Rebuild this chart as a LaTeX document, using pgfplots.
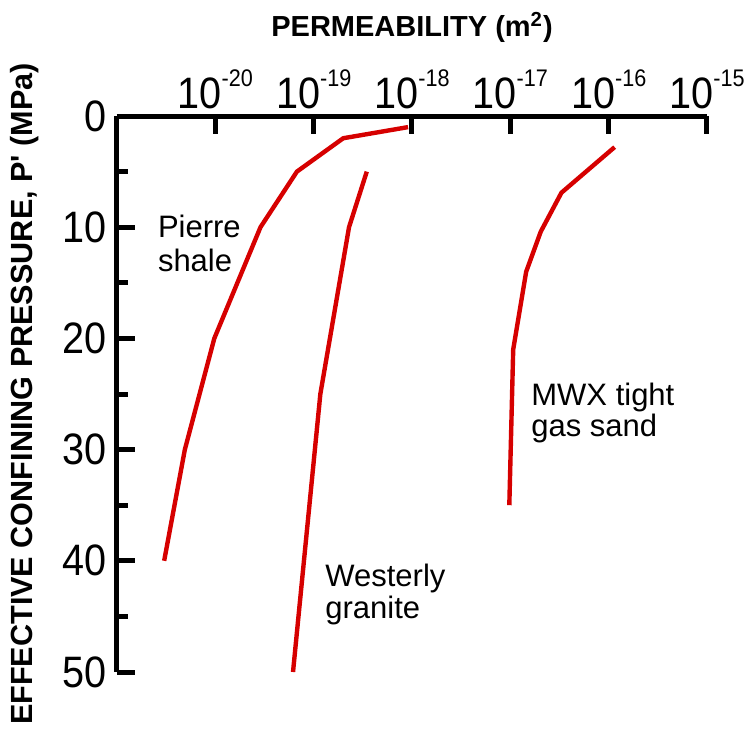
\documentclass[border=0pt]{standalone}
\usepackage{pgfplots}
\pgfplotsset{compat=1.18}
\usepackage{fontspec}
\setmainfont{Liberation Sans}
\newfontfamily\tickfont[FakeStretch=0.9]{Liberation Sans}
\definecolor{curvered}{RGB}{214,0,0}
% power-of-ten tick label with a raised exponent
\newcommand\tl[1]{10\raisebox{10.5pt}{\fontsize{12}{12}\selectfont #1}}

\begin{document}
\begin{tikzpicture}
\begin{axis}[
  at={(0pt,0pt)}, anchor=south west,
  scale only axis, width=295pt, height=278pt,
  xmode=log, xmin=1e-21, xmax=1e-15,
  ymin=0, ymax=50, y dir=reverse,
  axis x line*=top, axis y line*=left,
  axis line style={line width=2.5pt, -},
  xtick={1e-20,1e-19,1e-18,1e-17,1e-16,1e-15},
  xticklabels={\tl{-20},\tl{-19},\tl{-18},\tl{-17},\tl{-16},\tl{-15}},
  xminorticks=false,
  ytick={0,10,20,30,40,50},
  yticklabels={0,10,20,30,40,50},
  minor ytick={5,15,25,35,45},
  tick align=inside,
  major tick length=9pt, minor tick length=5.5pt,
  tick style={line width=2.5pt, black},
  minor tick style={line width=2.5pt, black},
  xtick pos=right, xticklabel pos=right,
  ytick pos=left, yticklabel pos=left,
  xticklabel style={font=\tickfont\fontsize{22}{22}\selectfont, anchor=base, inner sep=0pt, yshift=4pt},
  yticklabel style={font=\tickfont\fontsize{22}{22}\selectfont, anchor=east, inner sep=0pt, xshift=-5pt},
  clip=false,
]
% Pierre shale
\addplot[curvered, line width=2.2pt, line join=round] coordinates {
  (9.12e-19,1) (2.00e-19,2) (6.76e-20,5) (2.88e-20,10)
  (9.77e-21,20) (4.90e-21,30) (3.02e-21,40)
};
% Westerly granite
\addplot[curvered, line width=2.2pt, line join=round] coordinates {
  (3.47e-19,5) (2.29e-19,10) (1.17e-19,25) (6.17e-20,50)
};
% MWX tight gas sand
\addplot[curvered, line width=2.2pt, line join=round] coordinates {
  (1.15e-16,2.8) (3.31e-17,6.9) (2.04e-17,10.4) (1.45e-17,14)
  (1.07e-17,21) (9.77e-18,35)
};
\end{axis}

\node[anchor=base, font=\bfseries\fontsize{14.5}{17}\selectfont] at (147.5pt,317.5pt) {PERMEABILITY (m\textsuperscript{2})};
\node[rotate=90, font=\bfseries\fontsize{15.3}{18}\selectfont] at (-46pt,139pt) {EFFECTIVE CONFINING PRESSURE, P\textquotesingle\ (MPa)};

\begin{scope}[every node/.style={anchor=base west, inner sep=0pt, font=\fontsize{15.5}{18}\selectfont}]
\node at (20.3pt,217pt) {Pierre};
\node at (20.3pt,200pt) {shale};
\node at (207pt,133.5pt) {MWX tight};
\node at (207pt,117.5pt) {gas sand};
\node at (104pt,43pt) {Westerly};
\node at (104pt,27pt) {granite};
\end{scope}

\pgfresetboundingbox
\useasboundingbox (-58.5pt,-28pt) rectangle (315.5pt,336pt);
\end{tikzpicture}
\end{document}
